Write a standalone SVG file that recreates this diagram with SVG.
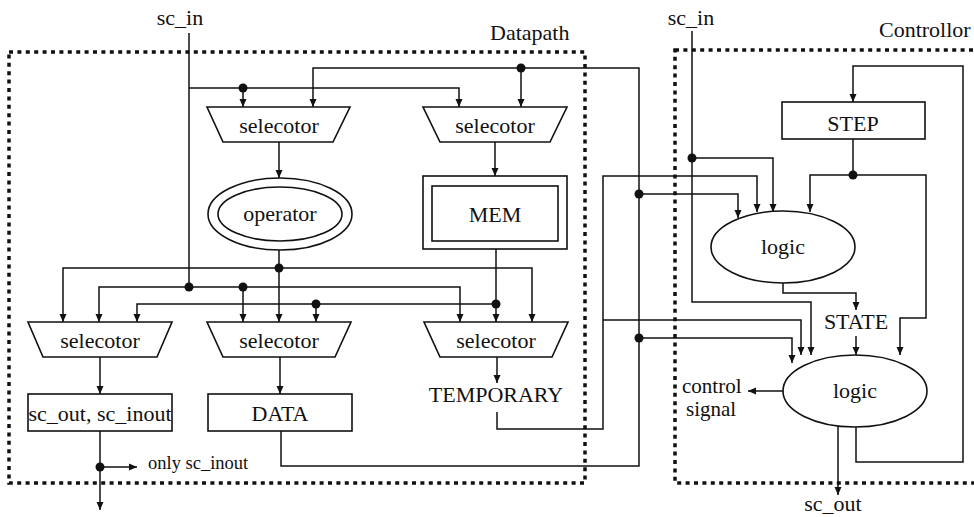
<svg xmlns="http://www.w3.org/2000/svg" width="974" height="517" viewBox="0 0 974 517" font-family="'Liberation Serif', 'Times New Roman', serif">
  <style>
    .bg { fill: #ffffff; }
    .frame { fill: none; stroke: #111; stroke-width: 3.5; stroke-dasharray: 4 4.4; }
    .shape { fill: #ffffff; stroke: #111; stroke-width: 1.6; }
    .wire { fill: none; stroke: #111; stroke-width: 1.5; }
    .arrow { marker-end: url(#head); }
    .dot { fill: #111; }
    text { font-family: "Liberation Serif", "Times New Roman", serif; font-size: 22px; fill: #111; }
    .mid { text-anchor: middle; }
    .small { font-size: 18.5px; }
    .note { font-size: 21px; }
  </style>
  <defs>
    <marker id="head" markerUnits="userSpaceOnUse" markerWidth="8" markerHeight="8" refX="8" refY="4" orient="auto">
      <path d="M0,0.5 L8,4 L0,7.5 z" fill="#111"/>
    </marker>
  </defs>

  <rect class="bg" x="0" y="0" width="974" height="517"/>

  <!-- module frames -->
  <g id="datapath">
    <rect class="frame" x="9" y="52" width="576" height="431"/>
    <text x="490" y="40">Datapath</text>
  </g>
  <g id="controllor">
    <rect class="frame" x="675" y="50" width="320" height="433"/>
    <text x="879" y="37">Controllor</text>
  </g>

  <!-- external ports -->
  <g id="port-sc-in-dp"><text class="mid" x="180" y="25">sc_in</text></g>
  <g id="port-sc-in-ctl"><text class="mid" x="691" y="25">sc_in</text></g>
  <g id="port-sc-out"><text class="mid" x="833" y="511">sc_out</text></g>
  <g id="port-only-inout"><text class="small" x="148" y="469">only sc_inout</text></g>
  <g id="port-control-signal">
    <text class="note" x="682" y="393">control</text>
    <text class="note" x="686" y="416">signal</text>
  </g>

  <!-- connectors -->
  <g id="connectors">
    <!-- datapath sc_in -->
    <path class="wire" d="M189,33 V287"/>
    <path class="wire arrow" d="M189,88 H459 V107"/>
    <path class="wire arrow" d="M243,88 V107"/>
    <path class="wire arrow" d="M189,287 H99 V322"/>
    <path class="wire arrow" d="M189,287 H460 V322"/>
    <path class="wire arrow" d="M243,287 V322"/>

    <!-- DATA feedback loop -->
    <path class="wire arrow" d="M281,431 V466 H639 V68 H313 V107"/>
    <path class="wire arrow" d="M521,68 V107"/>
    <path class="wire arrow" d="M639,194 H738 V218"/>
    <path class="wire arrow" d="M639,338 H792 V363"/>

    <!-- selectors to operator / MEM -->
    <path class="wire arrow" d="M279,142 V178"/>
    <path class="wire arrow" d="M495,142 V176"/>

    <!-- operator fan-out -->
    <path class="wire arrow" d="M279,250 V322"/>
    <path class="wire arrow" d="M279,268 H63 V322"/>
    <path class="wire arrow" d="M279,268 H532 V322"/>

    <!-- MEM fan-out -->
    <path class="wire arrow" d="M496,249 V322"/>
    <path class="wire arrow" d="M496,304 H137 V322"/>
    <path class="wire arrow" d="M316,304 V322"/>

    <!-- lower selectors to registers -->
    <path class="wire arrow" d="M100,357 V394"/>
    <path class="wire arrow" d="M100,431 V510"/>
    <path class="wire arrow" d="M100,467 H137"/>
    <path class="wire arrow" d="M280,357 V394"/>
    <path class="wire arrow" d="M497,357 V383"/>

    <!-- TEMPORARY to controller -->
    <path class="wire arrow" d="M497,412 V429 H603 V176 H757 V212"/>
    <path class="wire arrow" d="M603,320 H801 V355"/>

    <!-- controller sc_in -->
    <path class="wire arrow" d="M692,31 V302 H811 V355"/>
    <path class="wire arrow" d="M692,158 H773 V212"/>

    <!-- STEP loop -->
    <path class="wire arrow" d="M856,427 V462 H963 V66 H853 V102"/>
    <path class="wire" d="M853,139 V175"/>
    <path class="wire arrow" d="M853,175 H810 V212"/>
    <path class="wire arrow" d="M853,175 H926 V318 H900 V355"/>

    <!-- logic to STATE to logic -->
    <path class="wire arrow" d="M783,283 V293 H856 V310"/>
    <path class="wire arrow" d="M856,336 V355"/>

    <!-- outputs of the lower logic -->
    <path class="wire arrow" d="M783,391 H748"/>
    <path class="wire arrow" d="M838,426 V495"/>

    <!-- junction dots -->
    <circle class="dot" cx="243" cy="88" r="4.5"/>
    <circle class="dot" cx="521" cy="68" r="4.5"/>
    <circle class="dot" cx="189" cy="287" r="4.5"/>
    <circle class="dot" cx="243" cy="287" r="4.5"/>
    <circle class="dot" cx="279" cy="268" r="4.5"/>
    <circle class="dot" cx="316" cy="304" r="4.5"/>
    <circle class="dot" cx="496" cy="304" r="4.5"/>
    <circle class="dot" cx="100" cy="467" r="4.5"/>
    <circle class="dot" cx="639" cy="194" r="4.5"/>
    <circle class="dot" cx="639" cy="338" r="4.5"/>
    <circle class="dot" cx="692" cy="158" r="4.5"/>
    <circle class="dot" cx="853" cy="175" r="4.5"/>
  </g>

  <!-- datapath nodes -->
  <g id="sel-top-left">
    <polygon class="shape" points="207,107 350,107 333,142 223,142"/>
    <text class="mid" x="279" y="133">selecotor</text>
  </g>
  <g id="sel-top-right">
    <polygon class="shape" points="423,107 567,107 550,142 440,142"/>
    <text class="mid" x="495" y="133">selecotor</text>
  </g>
  <g id="operator">
    <ellipse class="shape" cx="280" cy="214" rx="72" ry="36"/>
    <ellipse class="shape" cx="280" cy="214" rx="62" ry="27"/>
    <text class="mid" x="280" y="221">operator</text>
  </g>
  <g id="mem">
    <rect class="shape" x="423" y="176" width="144" height="73"/>
    <rect class="shape" x="432" y="186" width="126" height="55"/>
    <text class="mid" x="495" y="222">MEM</text>
  </g>
  <g id="sel-bottom-left">
    <polygon class="shape" points="28,322 172,322 157,357 43,357"/>
    <text class="mid" x="100" y="348">selecotor</text>
  </g>
  <g id="sel-bottom-middle">
    <polygon class="shape" points="207,322 351,322 335,357 223,357"/>
    <text class="mid" x="279" y="348">selecotor</text>
  </g>
  <g id="sel-bottom-right">
    <polygon class="shape" points="424,322 568,322 552,357 440,357"/>
    <text class="mid" x="496" y="348">selecotor</text>
  </g>
  <g id="sc-out-inout">
    <rect class="shape" x="28" y="394" width="144" height="37"/>
    <text class="mid" x="100" y="421">sc_out, sc_inout</text>
  </g>
  <g id="data">
    <rect class="shape" x="208" y="394" width="144" height="37"/>
    <text class="mid" x="280" y="421">DATA</text>
  </g>
  <g id="temporary">
    <text class="mid" x="496" y="402">TEMPORARY</text>
  </g>

  <!-- controller nodes -->
  <g id="step">
    <rect class="shape" x="782" y="102" width="143" height="37"/>
    <text class="mid" x="853" y="131">STEP</text>
  </g>
  <g id="logic-upper">
    <ellipse class="shape" cx="783" cy="247" rx="72" ry="36"/>
    <text class="mid" x="783" y="254">logic</text>
  </g>
  <g id="state">
    <text class="mid" x="856" y="329">STATE</text>
  </g>
  <g id="logic-lower">
    <ellipse class="shape" cx="855" cy="391" rx="72" ry="36"/>
    <text class="mid" x="855" y="398">logic</text>
  </g>
</svg>
